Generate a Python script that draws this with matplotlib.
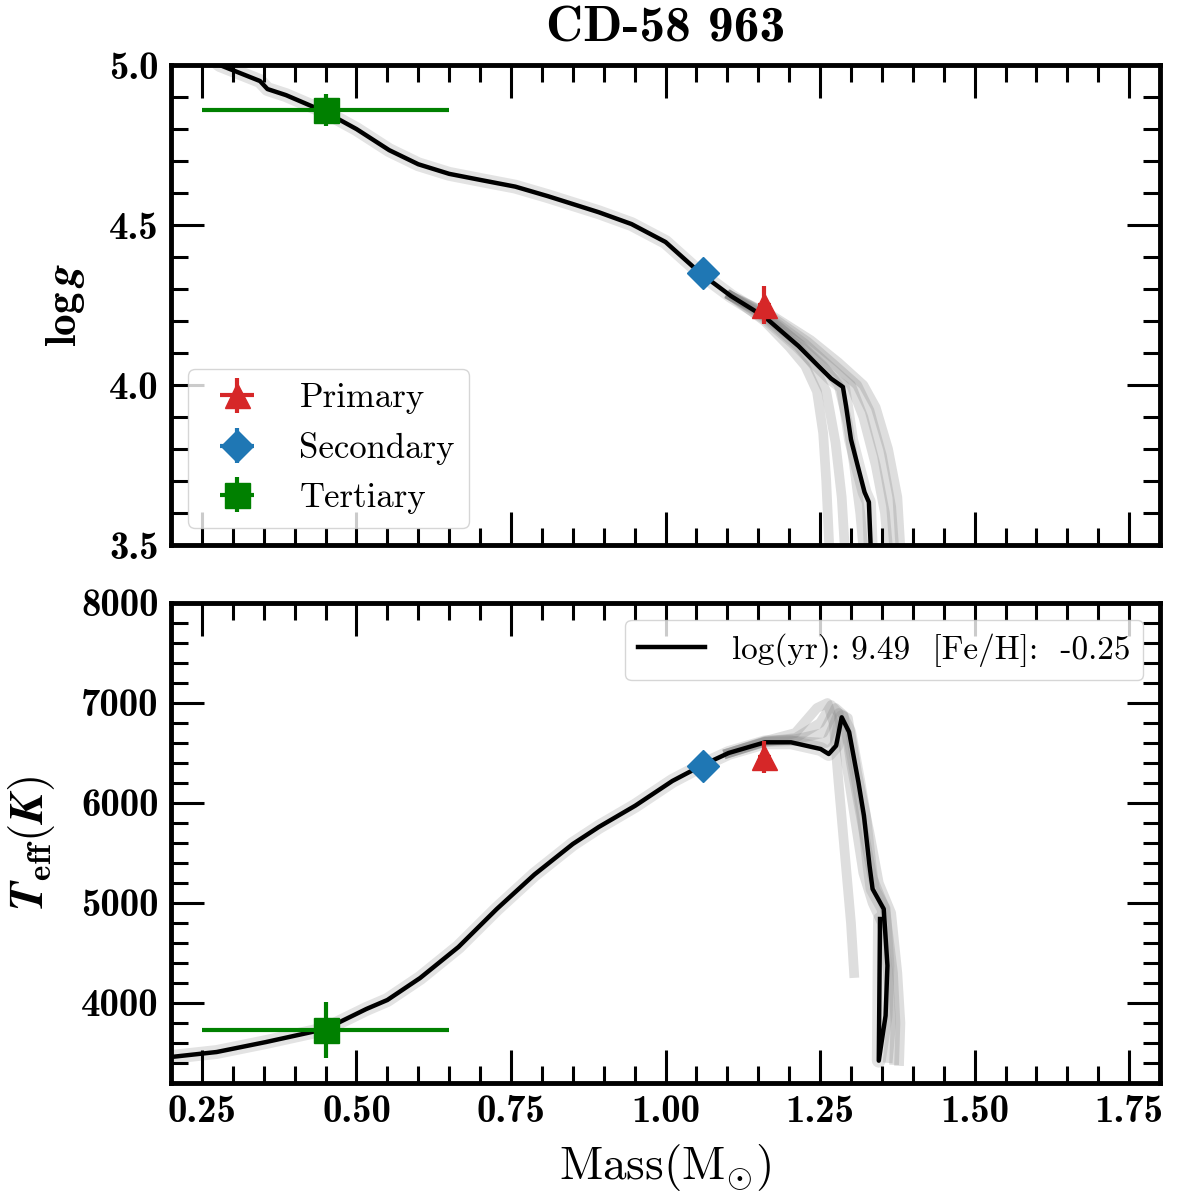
import numpy as np
import matplotlib
matplotlib.use("Agg")
import matplotlib.pyplot as plt

plt.rcParams["font.family"] = "serif"
plt.rcParams["font.serif"] = ["cmr10"]
plt.rcParams["mathtext.fontset"] = "cm"
plt.rcParams["axes.unicode_minus"] = False
plt.rcParams["axes.formatter.use_mathtext"] = False

# --- observed stars: mass, logg, Teff (value, error) ---
star_names = ["Primary", "Secondary", "Tertiary"]
star_colors = ["#d62728", "#1f77b4", "green"]
star_markers = ["^", "D", "s"]
star_msize = [18, 16, 18]
star_mass = [1.16, 1.06, 0.45]
star_mass_err = [0.01, 0.01, 0.20]
star_logg = [4.25, 4.35, 4.86]
star_logg_err = [0.06, 0.02, 0.05]
star_teff = [6460, 6370, 3730]
star_teff_err = [160, 60, 280]

# --- best-fit isochrone (log g panel) ---
iso_mass_g = [0.26, 0.279, 0.344, 0.356, 0.386, 0.45, 0.50, 0.553, 0.60, 0.65,
              0.703, 0.757, 0.81, 0.892, 0.945, 1.0, 1.056, 1.106, 1.161,
              1.215, 1.247, 1.268, 1.287, 1.292, 1.30, 1.311, 1.322, 1.329, 1.332]
iso_logg = [5.03, 5.0, 4.95, 4.925, 4.906, 4.853, 4.80, 4.734, 4.69, 4.66,
            4.64, 4.62, 4.59, 4.54, 4.503, 4.447, 4.35, 4.278, 4.212,
            4.122, 4.06, 4.02, 3.994, 3.935, 3.83, 3.747, 3.665, 3.634, 3.49]

# --- best-fit isochrone (Teff panel) ---
iso_mass_t = [0.2, 0.274, 0.354, 0.45, 0.516, 0.55, 0.603, 0.665, 0.727, 0.788,
              0.85, 0.892, 0.951, 1.011, 1.058, 1.102, 1.161, 1.203, 1.251,
              1.264, 1.276, 1.285, 1.297, 1.312, 1.321, 1.33, 1.335, 1.353,
              1.359, 1.356, 1.345, 1.347]
iso_teff = [3460, 3510, 3610, 3740, 3940, 4030, 4250, 4560, 4940, 5285,
            5590, 5760, 5973, 6220, 6373, 6500, 6607, 6607, 6540,
            6490, 6573, 6857, 6710, 6210, 5873, 5373, 5140, 4940,
            4373, 3873, 3423, 4840]

# --- sampled isochrones near the turn-off (grey spread) ---
samp_mass_g = [
    [1.106, 1.16, 1.20, 1.226, 1.245, 1.255, 1.26, 1.265],
    [1.106, 1.161, 1.215, 1.24, 1.26, 1.275, 1.285, 1.29],
    [1.106, 1.163, 1.22, 1.255, 1.28, 1.295, 1.305, 1.315, 1.32],
    [1.106, 1.165, 1.225, 1.265, 1.30, 1.32, 1.34, 1.355, 1.36],
    [1.106, 1.168, 1.23, 1.272, 1.31, 1.33, 1.35, 1.365, 1.37],
    [1.106, 1.17, 1.235, 1.28, 1.32, 1.34, 1.36, 1.375, 1.38],
]
samp_logg = [
    [4.278, 4.20, 4.12, 4.06, 3.98, 3.85, 3.70, 3.49],
    [4.278, 4.21, 4.12, 4.06, 3.98, 3.82, 3.65, 3.49],
    [4.278, 4.212, 4.125, 4.06, 4.0, 3.88, 3.75, 3.6, 3.49],
    [4.278, 4.215, 4.13, 4.06, 4.00, 3.90, 3.75, 3.60, 3.49],
    [4.278, 4.218, 4.135, 4.065, 4.00, 3.92, 3.78, 3.62, 3.49],
    [4.278, 4.22, 4.14, 4.07, 4.00, 3.93, 3.80, 3.65, 3.49],
]
samp_mass_t = [
    [1.102, 1.161, 1.21, 1.245, 1.262, 1.272, 1.28, 1.29, 1.30, 1.305],
    [1.102, 1.161, 1.21, 1.25, 1.268, 1.28, 1.29, 1.305, 1.32, 1.335, 1.35, 1.36, 1.365, 1.36],
    [1.102, 1.161, 1.212, 1.255, 1.275, 1.288, 1.30, 1.318, 1.335, 1.355, 1.368, 1.372, 1.37],
    [1.102, 1.161, 1.215, 1.26, 1.28, 1.295, 1.31, 1.33, 1.345, 1.365, 1.375, 1.38, 1.378],
]
samp_teff = [
    [6500, 6620, 6700, 6950, 7000, 6800, 6200, 5500, 4800, 4300],
    [6500, 6615, 6650, 6800, 6980, 6900, 6500, 5900, 5300, 5000, 4800, 4300, 3800, 3450],
    [6500, 6612, 6640, 6700, 6950, 6880, 6400, 5800, 5250, 4950, 4300, 3800, 3430],
    [6500, 6610, 6620, 6600, 6900, 6850, 6300, 5700, 5200, 4900, 4300, 3800, 3420],
]

iso_label = "log(yr): 9.49  [Fe/H]:  -0.25"

fig = plt.figure(figsize=(12, 12), dpi=100)
ax1 = fig.add_axes([0.1425, 0.5458, 0.8242, 0.4])
ax2 = fig.add_axes([0.1425, 0.0975, 0.8242, 0.4], sharex=ax1)

# grey halo + samples
for ax, mx, my, sm, sy in [(ax1, iso_mass_g, iso_logg, samp_mass_g, samp_logg),
                           (ax2, iso_mass_t, iso_teff, samp_mass_t, samp_teff)]:
    ax.plot(mx, my, color="0.5", lw=10, alpha=0.22, solid_capstyle="round", zorder=1)
    for xs, ys in zip(sm, sy):
        ax.plot(xs, ys, color="0.5", lw=7, alpha=0.26, zorder=1)

ax1.plot(iso_mass_g, iso_logg, color="k", lw=3.2, zorder=2)
ax2.plot(iso_mass_t, iso_teff, color="k", lw=3.2, zorder=2, label=iso_label)

for i in range(3):
    ax1.errorbar(star_mass[i], star_logg[i], xerr=star_mass_err[i], yerr=star_logg_err[i],
                 fmt=star_markers[i], color=star_colors[i], ms=star_msize[i], elinewidth=3,
                 capsize=0, zorder=3, label=star_names[i])
    ax2.errorbar(star_mass[i], star_teff[i], xerr=star_mass_err[i], yerr=star_teff_err[i],
                 fmt=star_markers[i], color=star_colors[i], ms=star_msize[i], elinewidth=3,
                 capsize=0, zorder=3)

ax1.set_xlim(0.2, 1.8)
ax1.set_ylim(3.5, 5.0)
ax2.set_ylim(3200, 8000)
ax1.set_xticks([0.25, 0.5, 0.75, 1.0, 1.25, 1.5, 1.75])
ax1.set_xticks(np.arange(0.2, 1.8001, 0.05), minor=True)
ax1.set_yticks([3.5, 4.0, 4.5, 5.0])
ax1.set_yticks(np.arange(3.5, 5.0001, 0.1), minor=True)
ax2.set_yticks([4000, 5000, 6000, 7000, 8000])
ax2.set_yticks(np.arange(3200, 8001, 200), minor=True)
ax1.xaxis.set_major_formatter(matplotlib.ticker.FormatStrFormatter("%.2f"))
ax1.yaxis.set_major_formatter(matplotlib.ticker.FormatStrFormatter("%.1f"))

for ax in (ax1, ax2):
    for s in ax.spines.values():
        s.set_linewidth(3.5)
    ax.tick_params(which="both", direction="in", top=True, right=True,
                   labelfontfamily="cmb10", labelsize=28, pad=9)
    ax.tick_params(which="major", length=24, width=2.2)
    ax.tick_params(which="minor", length=12, width=2.2)
ax1.tick_params(labelbottom=False)

ax1.set_title("CD-58 963", fontfamily="cmb10", fontsize=37, pad=17)
ax1.set_ylabel(r"$\mathbf{log}\,\mathbfit{g}$", fontsize=31)
ax2.set_ylabel(r"$\mathbfit{T}_{\mathbf{eff}}\mathbf{(}\mathbfit{K}\mathbf{)}$", fontsize=34)
ax1.yaxis.set_label_coords(-0.085, 0.5)
ax2.yaxis.set_label_coords(-0.115, 0.5)
ax2.set_xlabel(r"Mass(M$_{\odot}$)", fontsize=34, labelpad=8)

ax1.legend(loc="lower left", fontsize=25, fancybox=True)
ax2.legend(loc="upper right", fontsize=24, fancybox=True)

fig.savefig("out.png", dpi=100)
